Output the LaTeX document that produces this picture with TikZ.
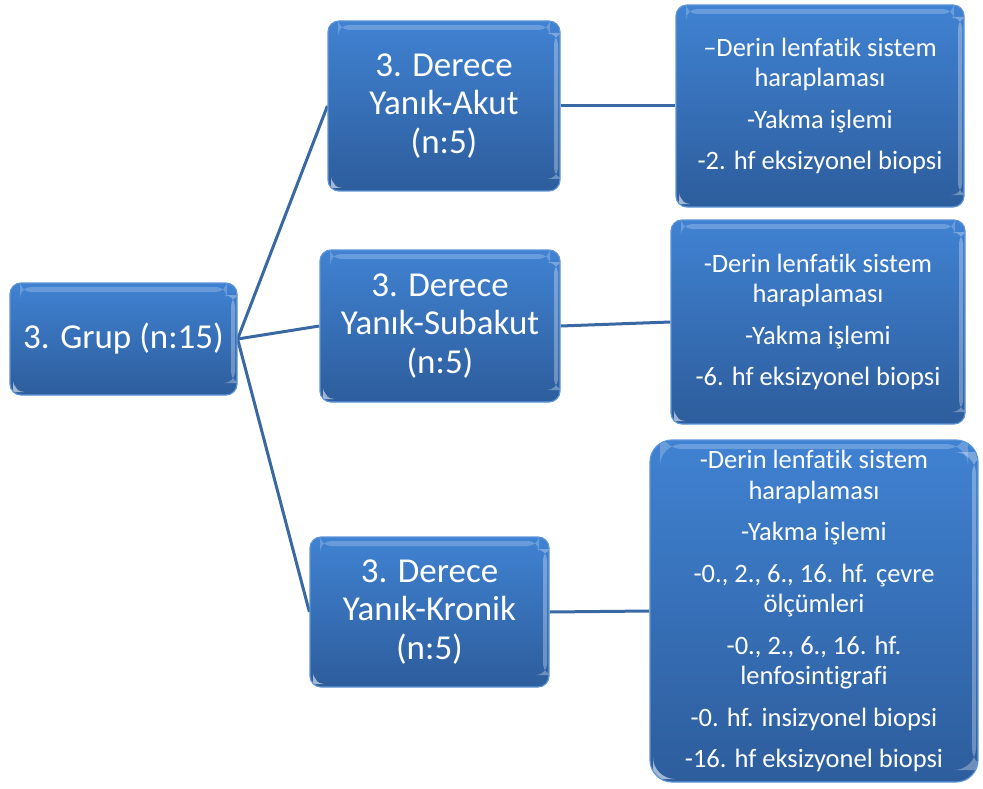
\documentclass[tikz,border=0pt]{standalone}
\usepackage{fontspec}
\setmainfont[Ligatures=NoCommon]{Carlito}
\usetikzlibrary{backgrounds}
\definecolor{boxtop}{HTML}{4082D2}
\definecolor{boxbot}{HTML}{2D5D9C}
\definecolor{boxedge}{HTML}{5E95D8}
\definecolor{linkcol}{HTML}{3A68A2}
\tikzset{
  box/.style={rectangle, rounded corners=11pt, top color=boxtop, bottom color=boxbot,
    draw=boxedge, line width=1.2pt, text=white, align=center, inner sep=0pt,
    path picture={
      \fill[white, opacity=0.22] ([xshift=10pt,yshift=-4pt]path picture bounding box.north west) rectangle ([xshift=-10pt,yshift=-9pt]path picture bounding box.north east);
      \fill[white, opacity=0.30] ([xshift=-6pt,yshift=-12pt]path picture bounding box.north east) rectangle ([xshift=-2pt,yshift=12pt]path picture bounding box.south east);
      \fill[white, opacity=0.55] ([xshift=3pt,yshift=3pt]path picture bounding box.south west) -- ++(0,9pt) -- ++(6pt,-9pt) -- cycle;
    }},
  midbox/.style={box, font=\fontsize{35}{38.5}\selectfont},
  infobox/.style={box, font=\fontsize{26.5}{30.5}\selectfont},
  link/.style={draw=linkcol, line width=3pt}
}
\begin{document}
\begin{tikzpicture}[x=1pt,y=-1pt]
\useasboundingbox (0,0) rectangle (983,789);
\node[midbox, minimum width=227pt, minimum height=112pt] (grup) at (123.5,339) {3. Grup (n:15)};
\node[midbox, minimum width=232pt, minimum height=170pt] (akut) at (444,106) {3. Derece\\Yanık-Akut\\(n:5)};
\node[midbox, minimum width=240pt, minimum height=152pt] (subakut) at (440,326) {3. Derece\\Yanık-Subakut\\(n:5)};
\node[midbox, minimum width=239pt, minimum height=150pt] (kronik) at (429.5,612) {3. Derece\\Yanık-Kronik\\(n:5)};
\node[infobox, minimum width=288pt, minimum height=202pt] (r1) at (820,106)
  {–Derin lenfatik sistem\\haraplaması\\[11pt]-Yakma işlemi\\[11pt]-2. hf eksizyonel biopsi};
\node[infobox, minimum width=294pt, minimum height=204pt] (r2) at (818,322)
  {-Derin lenfatik sistem\\haraplaması\\[11pt]-Yakma işlemi\\[11pt]-6. hf eksizyonel biopsi};
\node[infobox, rounded corners=22pt, minimum width=328pt, minimum height=342pt] (r3) at (814,611)
  {-Derin lenfatik sistem\\haraplaması\\[11pt]-Yakma işlemi\\[11pt]-0., 2., 6., 16. hf. çevre\\ölçümleri\\[11pt]-0., 2., 6., 16. hf.\\lenfosintigrafi\\[11pt]-0. hf. insizyonel biopsi\\[11pt]-16. hf eksizyonel biopsi};
\begin{scope}[on background layer]
  \draw[link] (grup.east) -- (akut.west);
  \draw[link] (grup.east) -- (subakut.west);
  \draw[link] (grup.east) -- (kronik.west);
  \draw[link] (akut.east) -- (r1.west);
  \draw[link] (subakut.east) -- (r2.west);
  \draw[link] (kronik.east) -- (r3.west);
\end{scope}
\end{tikzpicture}
\end{document}
